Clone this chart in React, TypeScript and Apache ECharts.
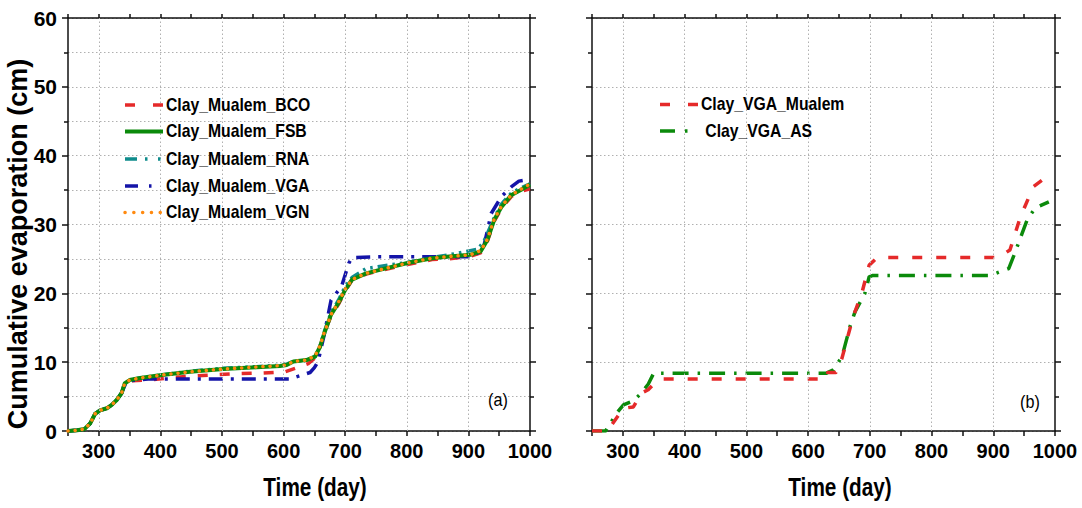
import React, { useEffect, useRef } from "react";
import * as echarts from "echarts";

// ---------- data (left panel, a) ----------
const FSB_DAYS = [250, 265, 277, 286, 294, 302, 313, 321, 329, 337, 342, 350, 367, 399, 448, 502, 556, 594, 605, 616, 637, 651, 659, 666, 677, 689, 700, 711, 734, 756, 801, 841, 869, 903, 920, 931, 942, 954, 970, 985, 1000];
const FSB_VALS = [0, 0.1, 0.3, 1.1, 2.5, 3.0, 3.3, 3.8, 4.5, 5.5, 6.9, 7.4, 7.7, 8.1, 8.6, 9.0, 9.25, 9.45, 9.6, 10.1, 10.3, 10.8, 12.2, 14.2, 16.9, 18.6, 20.5, 22.0, 22.9, 23.4, 24.4, 25.1, 25.35, 25.6, 26.1, 27.8, 30.7, 32.6, 34.3, 35.0, 35.8];

const VGN_DAYS = [250, 265, 277, 286, 294, 302, 313, 321, 329, 337, 342, 350, 367, 399, 448, 502, 556, 594, 605, 616, 637, 651, 659, 666, 677, 689, 700, 711, 734, 756, 801, 841, 869, 903, 920, 931, 942, 954, 970, 985, 1000];
const VGN_VALS = [0, 0.1, 0.3, 1.1, 2.5, 3.0, 3.3, 3.8, 4.5, 5.5, 6.9, 7.4, 7.7, 8.1, 8.6, 9.0, 9.3, 9.5, 9.6, 10.1, 10.3, 10.9, 12.4, 14.3, 16.9, 18.7, 20.6, 22.0, 22.9, 23.4, 24.4, 25.1, 25.35, 25.6, 26.2, 27.9, 30.8, 32.7, 34.3, 35.1, 35.9];

const RNA_DAYS = [250, 265, 277, 286, 294, 302, 313, 321, 329, 337, 342, 350, 367, 399, 448, 502, 556, 594, 605, 616, 637, 651, 659, 666, 677, 689, 700, 711, 734, 756, 801, 841, 869, 903, 915, 925, 942, 954, 970, 985, 1000];
const RNA_VALS = [0, 0.1, 0.3, 1.1, 2.5, 3.0, 3.3, 3.8, 4.5, 5.5, 6.9, 7.4, 7.7, 8.1, 8.7, 9.1, 9.35, 9.55, 9.7, 10.1, 10.3, 10.8, 12.3, 14.4, 17.2, 19.0, 21.0, 22.3, 23.6, 23.9, 24.5, 25.2, 25.6, 26.2, 26.4, 27.5, 31.0, 33.0, 34.6, 35.3, 35.9];

const BCO_DAYS = [250, 265, 277, 286, 294, 302, 313, 321, 329, 337, 342, 350, 380, 437, 513, 562, 602, 625, 640, 651, 659, 666, 677, 689, 700, 711, 734, 756, 801, 841, 869, 903, 920, 931, 942, 954, 970, 985, 1000];
const BCO_VALS = [0, 0.1, 0.3, 1.1, 2.5, 3.0, 3.3, 3.8, 4.5, 5.5, 6.9, 7.3, 7.4, 7.9, 8.3, 8.4, 8.6, 9.3, 9.8, 10.6, 12.2, 14.2, 16.7, 18.4, 20.3, 21.9, 22.8, 23.3, 24.2, 24.9, 25.0, 25.4, 25.9, 27.6, 30.5, 32.4, 34.1, 34.8, 35.2];

const VGA_DAYS = [250, 265, 277, 286, 294, 302, 313, 321, 329, 337, 345, 360, 380, 610, 643, 650, 656, 666, 677, 694, 706, 711, 750, 900, 914, 925, 937, 954, 970, 982, 996, 1000];
const VGA_VALS = [0, 0.1, 0.3, 1.1, 2.5, 3.0, 3.3, 3.8, 4.5, 5.5, 7.2, 7.4, 7.55, 7.55, 8.5, 9.2, 10.1, 14.0, 19.0, 21.0, 24.4, 25.2, 25.3, 25.3, 25.8, 26.8, 31.6, 34.1, 35.5, 36.3, 36.5, 36.2];

// ---------- data (right panel, b) ----------
const MUALEM_DAYS = [250, 275, 282, 301, 317, 330, 341, 352, 365, 630, 632, 645, 655, 673, 687, 699, 711, 720, 908, 927, 944, 965, 980, 1000];
const MUALEM_VALS = [0, 0, 0.9, 3.3, 3.5, 5.5, 6.0, 7.0, 7.55, 7.55, 8.5, 8.5, 10.6, 16.6, 20.0, 24.1, 25.1, 25.2, 25.2, 26.3, 31.1, 35.5, 36.5, 36.7];

const AS_DAYS = [250, 272, 290, 301, 317, 330, 341, 350, 630, 641, 655, 668, 676, 692, 699, 705, 895, 925, 933, 955, 968, 990];
const AS_VALS = [0, 0, 2.6, 3.8, 4.4, 5.5, 6.8, 8.4, 8.4, 8.9, 10.8, 15.2, 17.3, 20.0, 22.4, 22.6, 22.6, 23.6, 25.4, 30.7, 32.4, 33.3];

// ---------- axes ----------
const X_MIN = 250;
const X_MAX = 1000;
const X_STEP = 50;
const Y_MIN = 0;
const Y_MAX = 60;
const Y_STEP = 10;
const GRID_DAYS = [300, 400, 500, 600, 700, 800, 900];

const LEFT_NAMES = ["Clay_Mualem_BCO", "Clay_Mualem_FSB", "Clay_Mualem_RNA", "Clay_Mualem_VGA", "Clay_Mualem_VGN"];
const RIGHT_NAMES = ["Clay_VGA_Mualem", " Clay_VGA_AS"];
const PANEL_TAGS = ["(a)", "(b)"];
const X_TITLE = "Time (day)";
const Y_TITLE = "Cumulative evaporation (cm)";

const RED = "#e52a2a";
const GREEN = "#0b8a0b";
const TEAL = "#0f8c8c";
const BLUE = "#1414a8";
const ORANGE = "#ff8a10";

const SANS = "'Liberation Sans', Arial, sans-serif";

const zip = (xs: number[], ys: number[]) => xs.map((x, i) => [x, ys[i]]);

export default function App() {
  const ref = useRef<HTMLDivElement>(null);
  useEffect(() => {
    if (!ref.current) return;
    const chart = echarts.init(ref.current, undefined, { renderer: "svg" });
    const grids = [
      { left: 68, top: 18, width: 462, height: 413 },
      { left: 592, top: 18, width: 463, height: 413 },
    ];
    const axisLine = { show: true, onZero: false, lineStyle: { color: "#111", width: 1.5 } };
    const xAxes: any[] = [];
    const yAxes: any[] = [];
    [0, 1].forEach((g) => {
      xAxes.push({
        type: "value", gridIndex: g, min: X_MIN, max: X_MAX, interval: X_STEP, position: "bottom",
        axisLine, axisTick: { show: true, inside: false, length: 5, lineStyle: { color: "#111", width: 1.5 } },
        axisLabel: {
          show: true, margin: 10, color: "#000", fontFamily: SANS, fontWeight: "bold", fontSize: 20,
          showMaxLabel: true, formatter: (v: number) => (v % 100 === 0 ? String(v) : ""),
        },
        splitLine: { show: false },
      });
      xAxes.push({
        type: "value", gridIndex: g, min: X_MIN, max: X_MAX, interval: X_STEP, position: "top",
        axisLine, axisTick: { show: true, inside: false, length: 4, lineStyle: { color: "#111", width: 1.5 } },
        axisLabel: { show: false }, splitLine: { show: false },
      });
      yAxes.push({
        type: "value", gridIndex: g, min: Y_MIN, max: Y_MAX, interval: Y_STEP, position: "left",
        axisLine, axisTick: { show: true, inside: false, length: 6, lineStyle: { color: "#111", width: 1.5 } },
        minorTick: { show: true, splitNumber: 2, length: 4, lineStyle: { color: "#111", width: 1.5 } },
        axisLabel: { show: g === 0, margin: 11, color: "#000", fontFamily: SANS, fontWeight: "bold", fontSize: 21 },
        splitLine: { show: true, lineStyle: { color: "#b0b0b0", width: 1, type: [1.5, 2.5] } },
        minorSplitLine: { show: g === 0, lineStyle: { color: "#b0b0b0", width: 1, type: [1.5, 2.5] } },
      });
      yAxes.push({
        type: "value", gridIndex: g, min: Y_MIN, max: Y_MAX, interval: Y_STEP, position: "right",
        axisLine, axisTick: { show: true, inside: false, length: 6, lineStyle: { color: "#111", width: 1.5 } },
        minorTick: { show: true, splitNumber: 2, length: 4, lineStyle: { color: "#111", width: 1.5 } },
        axisLabel: { show: false }, splitLine: { show: false },
      });
    });

    const mk = (name: string, g: number, xs: number[], ys: number[], color: string, width: number, type: any, cap = "butt", z = 3) => ({
      name, type: "line", xAxisIndex: 2 * g, yAxisIndex: 2 * g, data: zip(xs, ys),
      showSymbol: false, symbol: "none", z, clip: true,
      lineStyle: { color, width, type, cap, join: "round" },
    });

    const gridSeries = (g: number) => ({
      type: "line", xAxisIndex: 2 * g, yAxisIndex: 2 * g, data: [], z: 1, silent: true,
      markLine: {
        silent: true, symbol: "none", label: { show: false }, animation: false,
        lineStyle: { color: "#b0b0b0", width: 1, type: [1.5, 2.5] },
        data: GRID_DAYS.map((d) => ({ xAxis: d })),
      },
    });

    const series: any[] = [
      gridSeries(0),
      gridSeries(1),
      mk(LEFT_NAMES[0], 0, BCO_DAYS, BCO_VALS, RED, 3.5, [10, 12]),
      mk(LEFT_NAMES[3], 0, VGA_DAYS, VGA_VALS, BLUE, 3.5, [14, 8, 3, 8]),
      mk(LEFT_NAMES[2], 0, RNA_DAYS, RNA_VALS, TEAL, 3.5, [10, 5, 2.5, 5, 2.5, 5]),
      mk(LEFT_NAMES[1], 0, FSB_DAYS, FSB_VALS, GREEN, 4, "solid"),
      mk(LEFT_NAMES[4], 0, VGN_DAYS, VGN_VALS, ORANGE, 3.5, [0.1, 7], "round"),
      mk(RIGHT_NAMES[1].trim(), 1, AS_DAYS, AS_VALS, GREEN, 3.5, [16, 9, 2.5, 9]),
      mk(RIGHT_NAMES[0], 1, MUALEM_DAYS, MUALEM_VALS, RED, 3.5, [10, 14]),
    ];

    const legLine = (x1: number, x2: number, y: number, color: string, w: number, dash: any, cap = "butt") => ({
      type: "line", shape: { x1, y1: y, x2, y2: y },
      style: { stroke: color, lineWidth: w, lineDash: dash, lineCap: cap }, z: 10,
    });
    const txt = (x: number, y: number, text: string, font: string, extra: any = {}, sx = 1) => ({
      type: "text", x, y, z: 10, scaleX: sx,
      style: { text, font, fill: "#000", textVerticalAlign: "middle", ...extra },
    });
    const legFont = `bold 17.5px ${SANS}`;
    const leftRows = [105, 131.5, 159, 186, 212.5];
    const leftDefs: any[] = [
      [RED, 3.5, [10, 18], "butt"],
      [GREEN, 4, null, "butt"],
      [TEAL, 3.5, [12, 8, 2.5, 10.5, 2.5, 10], "butt"],
      [BLUE, 3.5, [13, 11, 2.5, 20], "butt"],
      [ORANGE, 3.5, [0.1, 8.7], "round"],
    ];
    const graphic: any[] = [];
    LEFT_NAMES.forEach((n, i) => {
      const d = leftDefs[i];
      graphic.push(legLine(125, 163, leftRows[i], d[0], d[1], d[2], d[3]));
      graphic.push(txt(166, leftRows[i], n, legFont, {}, 0.9));
    });
    graphic.push(legLine(660, 698, 104.5, RED, 3.5, [10, 18]));
    graphic.push(txt(701, 104.5, RIGHT_NAMES[0], legFont, {}, 0.9));
    graphic.push(legLine(660, 690, 131, GREEN, 3.5, [15, 10, 2.5, 20]));
    graphic.push(txt(701, 131, RIGHT_NAMES[1], legFont, { whiteSpace: "pre" }, 0.9));

    graphic.push(txt(498, 400, PANEL_TAGS[0], `18px ${SANS}`, { textAlign: "center" }, 0.9));
    graphic.push(txt(1030, 402, PANEL_TAGS[1], `18px ${SANS}`, { textAlign: "center" }, 0.9));
    graphic.push(txt(315, 487, X_TITLE, `bold 25px ${SANS}`, { textAlign: "center" }, 0.83));
    graphic.push(txt(840, 487, X_TITLE, `bold 25px ${SANS}`, { textAlign: "center" }, 0.83));
    graphic.push({
      type: "text", x: 18, y: 244, rotation: Math.PI / 2, z: 10,
      style: { text: Y_TITLE, font: `bold 27px ${SANS}`, fill: "#000", textAlign: "center", textVerticalAlign: "middle" },
    });

    chart.setOption({
      animation: false,
      backgroundColor: "#fff",
      grid: grids,
      xAxis: xAxes,
      yAxis: yAxes,
      series,
      graphic,
    });
    return () => chart.dispose();
  }, []);
  return <div ref={ref} style={{ position: "absolute", left: 0, top: 0, width: 1082, height: 508 }} />;
}
